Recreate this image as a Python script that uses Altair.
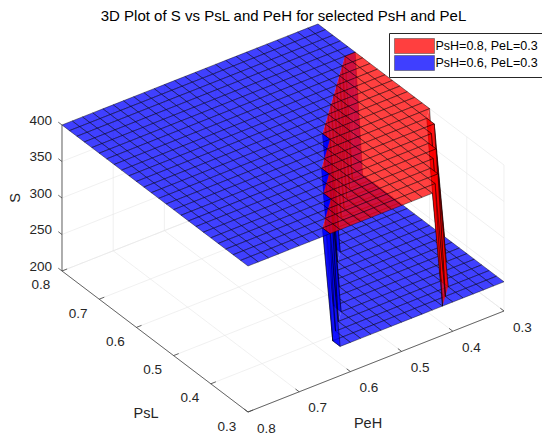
import numpy as np
import altair as alt

# ------------------------------------------------------------------ data
TITLE = "3D Plot of S vs PsL and PeH for selected PsH and PeL"
peh_values = np.round(np.arange(0.30, 0.8001, 0.02), 2)   # PeH grid of the surfaces
psl_values = np.round(np.arange(0.30, 0.8001, 0.02), 2)   # PsL grid of the surfaces
s_high = 400
s_low = 240
series_names = ["PsH=0.8, PeL=0.3", "PsH=0.6, PeL=0.3"]
series_colors = ["#ff0000", "#0000ff"]
# cliff lines: PeH below which S drops from s_high to s_low (read along PsL)
red_cliff_psl = [0.30, 0.49]
red_cliff_peh = [0.425, 0.30]
blue_cliff_psl = [0.30, 0.54, 0.70]
blue_cliff_peh = [0.638, 0.464, 0.30]

s_ticks = [200, 250, 300, 350, 400]
psl_ticks = [0.3, 0.4, 0.5, 0.6, 0.7, 0.8]
peh_ticks = [0.3, 0.4, 0.5, 0.6, 0.7, 0.8]
peh_lim = (0.3, 0.8)
psl_lim = (0.3, 0.8)
s_lim = (200, 400)

# ------------------------------------------------------------------ 3D view (orthographic)
M = np.array([[1.0, -0.7266, 0.0],
              [-0.3945, -0.5508, -0.5703]])
AWAY = np.cross(M[0], M[1])          # line of sight, pointing away from the viewer


def box(peh, psl, s):
    return np.array([(peh_lim[1] - peh) / (peh_lim[1] - peh_lim[0]),
                     (psl - psl_lim[0]) / (psl_lim[1] - psl_lim[0]),
                     (s - s_lim[0]) / (s_lim[1] - s_lim[0])])


def proj(p):
    return [round(float(M[0] @ p), 5), round(float(M[1] @ p), 5)]


def surface(cliff_psl, cliff_peh):
    S = np.empty((len(psl_values), len(peh_values)))
    for j, psl in enumerate(psl_values):
        thr = np.interp(psl, cliff_psl, cliff_peh)
        S[j] = np.where(peh_values >= thr - 1e-9, s_high, s_low)
    return S


S_red = surface(red_cliff_psl, red_cliff_peh)
S_blue = surface(blue_cliff_psl, blue_cliff_peh)


def feat(kind, coords, series, fo, so):
    return {"type": "Feature",
            "properties": {"series": series, "fo": fo, "so": so},
            "geometry": {"type": kind, "coordinates": coords}}


FO, SO = 0.75, 0.85
# a cell P00-P10-P11-P01 is split along the P10-P01 diagonal
TRIS = (((0, 1, 3), (3, 0, 1)),      # P00 P10 P01, edges P01-P00-P10
        ((1, 2, 3), (1, 2, 3)))      # P10 P11 P01, edges P10-P11-P01
items = []
n_i, n_j = len(peh_values), len(psl_values)
for k, S in enumerate([S_red, S_blue]):
    name = series_names[k]
    for j in range(n_j - 1):
        for i in range(n_i - 1):
            idx = [(j, i), (j, i + 1), (j + 1, i + 1), (j + 1, i)]
            pts = [box(peh_values[b], psl_values[a], S[a, b]) for a, b in idx]
            vals = [S[a] for a in idx]
            keep = []
            for tri, edges in TRIS:
                if k == 0 and all(S_red[idx[t]] == S_blue[idx[t]] for t in tri):
                    continue  # lies in the other surface, hidden by it
                keep.append((tri, edges))
            if not keep:
                continue
            if len(keep) == 2 and len(set(vals)) == 1:
                ring = [proj(p) for p in pts] + [proj(pts[0])]
                d = float(np.mean([AWAY @ p for p in pts]))
                items.append((d, k, 0, feat("Polygon", [ring], name, FO, SO)))
                continue
            for tri, edges in keep:
                tp = [pts[t] for t in tri]
                ring = [proj(p) for p in tp] + [proj(tp[0])]
                d = float(np.mean([AWAY @ p for p in tp]))
                items.append((d, k, 0, feat("Polygon", [ring], name, FO, 0)))
                items.append((d, k, 1, feat("LineString",
                                            [proj(pts[e]) for e in edges],
                                            name, 0, SO)))
items.sort(key=lambda t: (-t[0], t[1], t[2]))
face_features = [f for _, _, _, f in items]


def line_feature(pts):
    return {"type": "Feature", "properties": {},
            "geometry": {"type": "LineString", "coordinates": [proj(p) for p in pts]}}


grid_feats = []
for v in peh_ticks:
    grid_feats.append(line_feature([box(v, 0.3, 200), box(v, 0.8, 200), box(v, 0.8, 400)]))
for v in psl_ticks:
    grid_feats.append(line_feature([box(0.8, v, 200), box(0.3, v, 200), box(0.3, v, 400)]))
for v in s_ticks:
    grid_feats.append(line_feature([box(0.8, 0.8, v), box(0.3, 0.8, v), box(0.3, 0.3, v)]))

axis_feats = [
    line_feature([box(0.8, 0.8, 200), box(0.8, 0.8, 400)]),
    line_feature([box(0.8, 0.8, 200), box(0.8, 0.3, 200)]),
    line_feature([box(0.8, 0.3, 200), box(0.3, 0.3, 200)]),
]
for v in s_ticks:
    p = box(0.8, 0.8, v)
    axis_feats.append(line_feature([p, p + np.array([0, 0.02, 0])]))
for v in psl_ticks:
    p = box(0.8, v, 200)
    axis_feats.append(line_feature([p, p + np.array([0.02, 0, 0])]))
for v in peh_ticks:
    p = box(v, 0.3, 200)
    axis_feats.append(line_feature([p, p + np.array([0, 0.02, 0])]))


def pt(p, label):
    u, v = proj(p)
    return {"lon": u, "lat": v, "label": label}


s_lab = [pt(box(0.8, 0.8, v), str(v)) for v in s_ticks]
psl_lab = [pt(box(0.8, v, 200), f"{v:.1f}") for v in psl_ticks]
peh_lab = [pt(box(v, 0.3, 200), f"{v:.1f}") for v in peh_ticks]

# ------------------------------------------------------------------ chart
PROJ = dict(type="identity", scale=256, translate=[240, 404])
FONT = "Liberation Sans"
TXT = "#262626"

grid_layer = alt.Chart(alt.Data(values=grid_feats)).mark_geoshape(
    filled=False, stroke="#e6e6e6", strokeWidth=0.6).project(**PROJ)

surf_layer = alt.Chart(alt.Data(values=face_features)).mark_geoshape(
    stroke="#000000", strokeWidth=0.5
).encode(
    color=alt.Color("properties.series:N",
                    scale=alt.Scale(domain=series_names, range=series_colors),
                    legend=alt.Legend(
                        title=None, orient="none", legendX=381, legendY=25,
                        symbolType="M-2.667,-1L2.667,-1L2.667,1L-2.667,1Z",
                        symbolSize=225, symbolOffset=12.5,
                        symbolStrokeColor="#000000",
                        symbolStrokeWidth=0.5, symbolOpacity=0.75,
                        labelFont=FONT, labelFontSize=12.5, labelColor="#000000",
                        labelOffset=13, rowPadding=-1, padding=5,
                        strokeColor="#262626", fillColor="#ffffff")),
    fillOpacity=alt.FillOpacity("properties.fo:Q", scale=None),
    strokeOpacity=alt.StrokeOpacity("properties.so:Q", scale=None),
).project(**PROJ)

axis_layer = alt.Chart(alt.Data(values=axis_feats)).mark_geoshape(
    filled=False, stroke="#404040", strokeWidth=0.8).project(**PROJ)


def text_layer(recs, **kw):
    return alt.Chart(alt.Data(values=recs)).mark_text(
        font=FONT, color=TXT, **kw
    ).encode(longitude="lon:Q", latitude="lat:Q", text="label:N").project(**PROJ)


s_text = text_layer(s_lab, align="right", baseline="middle", dx=-10, dy=-4, fontSize=13.5)
psl_text = text_layer(psl_lab, align="center", baseline="middle", dx=-21, dy=14.5, fontSize=13.5)
peh_text = text_layer(peh_lab, align="center", baseline="middle", dx=18.5, dy=16.5, fontSize=13.5)
s_title = text_layer([pt(box(0.8, 0.8, 300), "S")], align="center", baseline="middle",
                     dy=-46, angle=270, fontSize=14.5)
psl_title = text_layer([pt(box(0.8, 0.55, 200), "PsL")], align="center", baseline="middle",
                       dx=-9, dy=72.5, fontSize=14.5)
peh_title = text_layer([pt(box(0.55, 0.3, 200), "PeH")], align="center", baseline="middle",
                       dx=-8, dy=62.5, fontSize=14.5)

title_layer = alt.Chart(alt.Data(values=[{"t": TITLE}])).mark_text(
    font=FONT, fontSize=15, color="#000000", align="center", baseline="alphabetic"
).encode(text="t:N", x=alt.value(275.5), y=alt.value(12.5))

chart = alt.layer(
    grid_layer, surf_layer, axis_layer,
    s_text, psl_text, peh_text, s_title, psl_title, peh_title, title_layer
).properties(
    width=534, height=426,
    autosize=alt.AutoSizeParams(type="none"),
    padding=0,
).configure_view(strokeWidth=0)

chart.save("out.html", embed_options={"renderer": "svg", "actions": False})
